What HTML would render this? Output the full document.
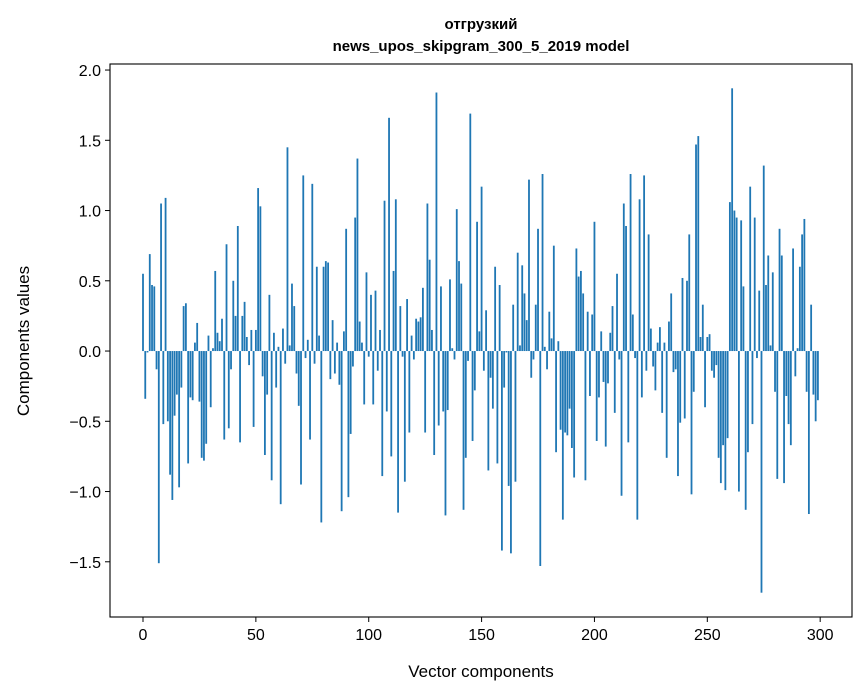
<!DOCTYPE html>
<html><head><meta charset="utf-8"><style>
html,body{margin:0;padding:0;background:#fff;}
svg{display:block;font-family:"Liberation Sans","DejaVu Sans",sans-serif;}
</style></head><body>
<svg id="chart" width="867" height="696" viewBox="0 0 867 696" xmlns="http://www.w3.org/2000/svg">
<rect width="867" height="696" fill="#fff"/>
<text x="481" y="29" text-anchor="middle" font-size="15" font-weight="bold" font-family="Liberation Sans, DejaVu Sans, sans-serif">отгрузкий</text>
<text x="481" y="51" text-anchor="middle" font-size="15" font-weight="bold">news_upos_skipgram_300_5_2019 model</text>
<g id="bars"></g>
<g id="axes"></g>
<text x="481" y="677" text-anchor="middle" font-size="17">Vector components</text>
<text transform="translate(29,341) rotate(-90)" text-anchor="middle" font-size="17">Components values</text>
</svg>
<script>
const values = [0.55,-0.34,-0.01,0.69,0.47,0.46,-0.13,-1.51,1.05,-0.52,1.09,-0.5,-0.88,-1.06,-0.46,-0.31,-0.97,-0.26,0.32,0.34,
-0.8,-0.33,-0.35,0.06,0.2,-0.36,-0.76,-0.78,-0.66,0.11,-0.4,0.02,0.57,0.13,0.07,0.23,-0.63,0.76,-0.55,-0.13,
0.5,0.25,0.89,-0.65,0.25,0.35,0.1,-0.1,0.15,-0.54,0.15,1.16,1.03,-0.18,-0.74,-0.31,0.4,-0.92,0.13,-0.26,
0.03,-1.09,0.16,-0.09,1.45,0.04,0.48,0.32,-0.16,-0.39,-0.95,1.25,-0.05,0.08,-0.63,1.19,-0.09,0.6,0.11,-1.22,
0.6,0.64,0.63,-0.2,0.22,-0.16,0.06,-0.24,-1.14,0.14,0.87,-1.04,-0.59,-0.11,0.95,1.37,0.21,0.06,-0.38,0.56,
-0.04,0.4,-0.38,0.43,-0.14,0.15,-0.89,1.07,-0.43,1.66,-0.75,0.57,1.08,-1.15,0.32,-0.04,-0.93,0.37,-0.58,0.11,
-0.06,0.23,0.21,0.24,0.45,-0.58,1.05,0.65,0.15,-0.74,1.84,-0.53,0.46,-0.43,-1.17,-0.42,0.51,0.02,-0.06,1.01,
0.64,0.48,-1.13,-0.76,-0.07,1.69,-0.64,-0.28,0.92,0.14,1.17,-0.14,0.29,-0.85,-0.19,-0.41,0.6,-0.8,0.47,-1.42,
-0.26,-0.01,-0.96,-1.44,0.33,-0.93,0.7,0.04,0.61,0.41,0.22,1.22,-0.19,-0.06,0.33,0.87,-1.53,1.26,0.03,-0.13,
0.28,0.09,0.75,-0.72,0.07,-0.56,-1.2,-0.58,-0.6,-0.41,-0.69,-0.9,0.73,0.53,0.57,0.41,-0.92,0.28,-0.32,0.26,
0.92,-0.64,-0.33,0.14,-0.22,-0.68,-0.23,0.13,0.32,-0.44,0.55,-0.06,-1.03,1.05,0.89,-0.65,1.26,0.26,-0.05,-1.2,
1.08,-0.33,1.25,-0.14,0.83,0.16,-0.11,-0.28,0.06,0.17,-0.44,0.06,-0.76,0.21,0.41,-0.15,-0.13,-0.89,-0.51,0.52,
-0.48,0.5,0.83,-1.02,-0.29,1.47,1.53,0.1,0.33,-0.4,0.1,0.12,-0.14,-0.19,-0.1,-0.76,-0.94,-0.67,-0.99,-0.62,
1.06,1.87,1.0,0.95,-1.0,0.93,0.46,-1.13,-0.72,1.17,-0.52,0.95,-0.05,0.43,-1.72,1.32,0.47,0.68,0.04,0.56,
-0.29,-0.91,0.87,0.68,-0.94,-0.32,-0.52,-0.67,0.73,-0.18,0.02,0.6,0.83,0.94,-0.29,-1.16,0.33,-0.31,-0.5,-0.35];
const xTicks = [0,50,100,150,200,250,300];
const yTicks = [-1.5,-1.0,-0.5,0.0,0.5,1.0,1.5,2.0];
const yTickLabels = ["\u22121.5","\u22121.0","\u22120.5","0.0","0.5","1.0","1.5","2.0"];

const L=110,R=852,T=64,B=617;
const xMin=-14.62,xMax=314.1,yMin=-1.893,yMax=2.043;
const X=v=>L+(v-xMin)/(xMax-xMin)*(R-L);
const Y=v=>T+(yMax-v)/(yMax-yMin)*(B-T);
const NS="http://www.w3.org/2000/svg";
const bars=document.getElementById('bars');
values.forEach((v,i)=>{
  const r=document.createElementNS(NS,'rect');
  const x0=X(i-0.4),x1=X(i+0.4);
  const y0=Y(Math.max(v,0)),y1=Y(Math.min(v,0));
  r.setAttribute('x',x0);r.setAttribute('width',x1-x0);
  r.setAttribute('y',y0);r.setAttribute('height',Math.max(y1-y0,0.3));
  r.setAttribute('fill','#1f77b4');
  
  
  bars.appendChild(r);
});
const axes=document.getElementById('axes');
const frame=document.createElementNS(NS,'rect');
frame.setAttribute('x',L);frame.setAttribute('y',T);frame.setAttribute('width',R-L);frame.setAttribute('height',B-T);
frame.setAttribute('fill','none');frame.setAttribute('stroke','#000');frame.setAttribute('stroke-width','1.1');


axes.appendChild(frame);
xTicks.forEach(t=>{
  const x=X(t);
  const ln=document.createElementNS(NS,'line');
  ln.setAttribute('x1',x);ln.setAttribute('x2',x);ln.setAttribute('y1',B);ln.setAttribute('y2',B+5);
  ln.setAttribute('stroke','#000');ln.setAttribute('stroke-width','1');
  
  
  axes.appendChild(ln);
  const tx=document.createElementNS(NS,'text');
  tx.setAttribute('x',x);tx.setAttribute('y',B+23);tx.setAttribute('text-anchor','middle');tx.setAttribute('font-size','16');
  tx.textContent=String(t);
  
  
  axes.appendChild(tx);
});
yTicks.forEach((t,i)=>{
  const y=Y(t);
  const ln=document.createElementNS(NS,'line');
  ln.setAttribute('x1',L-5);ln.setAttribute('x2',L);ln.setAttribute('y1',y);ln.setAttribute('y2',y);
  ln.setAttribute('stroke','#000');ln.setAttribute('stroke-width','1');
  
  
  axes.appendChild(ln);
  const tx=document.createElementNS(NS,'text');
  tx.setAttribute('x',L-9);tx.setAttribute('y',y+6);tx.setAttribute('text-anchor','end');tx.setAttribute('font-size','16');
  tx.textContent=yTickLabels[i];
  
  
  axes.appendChild(tx);
});
</script>
</body></html>
